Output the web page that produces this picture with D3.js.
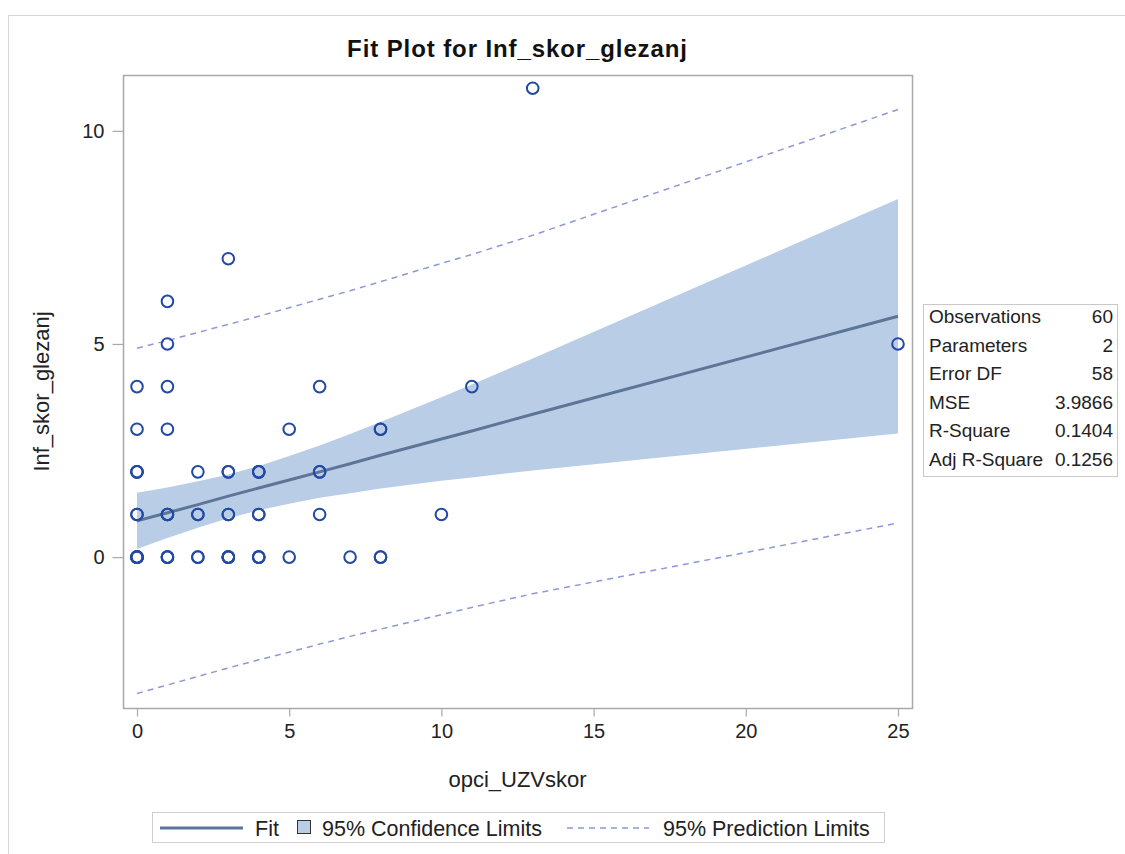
<!DOCTYPE html>
<html><head><meta charset="utf-8">
<script src="https://cdn.jsdelivr.net/npm/d3@7/dist/d3.min.js"></script>
<style>body{margin:0;background:#fff;} svg{display:block;font-family:"Liberation Sans",Arial,sans-serif;}</style>
</head><body>
<script>
// observations (x, y) incl. duplicates -> 60
const obsX = [0,0,0,0,0,0, 0,0, 0,0,0, 0, 0,
  1,1,1, 1,1,1, 1,1,1,1,
  2,2, 2,2, 2,
  3,3,3,3, 3,3, 3,3, 3,
  4,4,4, 4,4, 4,4,4,
  5,5, 6,6,6,6, 7, 8,8,8,8, 10, 11, 13, 25];
const obsY = [0,0,0,0,0,0, 1,1, 2,2,2, 3, 4,
  0,0,0, 1,1,1, 3,4,5,6,
  0,0, 1,1, 2,
  0,0,0,0, 1,1, 2,2, 7,
  0,0,0, 1,1, 2,2,2,
  0,3, 1,2,2,4, 0, 0,0,3,3, 1, 4, 11, 5];
// fit and limits read at observed x values
const fitX   = [0, 1, 2, 3, 4, 5, 6, 7, 8, 10, 11, 13, 25];
const fitY   = [0.85, 1.04, 1.23, 1.43, 1.62, 1.81, 2.00, 2.19, 2.39, 2.77, 2.96, 3.35, 5.65];
const clLow  = [0.19, 0.45, 0.69, 0.91, 1.10, 1.25, 1.39, 1.50, 1.61, 1.79, 1.87, 2.03, 2.90];
const clUp   = [1.51, 1.63, 1.78, 1.94, 2.14, 2.37, 2.62, 2.89, 3.17, 3.75, 4.05, 4.66, 8.40];
const plLow  = [-3.20, -3.00, -2.80, -2.60, -2.41, -2.23, -2.04, -1.86, -1.69, -1.35, -1.18, -0.86, 0.80];
const plUp   = [4.90, 5.08, 5.27, 5.46, 5.65, 5.85, 6.05, 6.25, 6.46, 6.89, 7.10, 7.55, 10.50];
const xTicks = [0, 5, 10, 15, 20, 25];
const yTicks = [0, 5, 10];
const statLabels = ["Observations","Parameters","Error DF","MSE","R-Square","Adj R-Square"];
const statValues = ["60","2","58","3.9866","0.1404","0.1256"];
const legendItems = ["Fit","95% Confidence Limits","95% Prediction Limits"];

const W=1125,H=854;
const svg=d3.select("body").append("svg").attr("width",W).attr("height",H);
// outer frame
svg.append("rect").attr("x",8.5).attr("y",15.5).attr("width",W+10).attr("height",H+10)
  .attr("fill","none").attr("stroke","#d6d6d6");

const L=123,R=912,T=75,B=708;
const x=d3.scaleLinear().domain([-0.46,25.46]).range([L,R]);
const y=d3.scaleLinear().domain([-3.54,11.31]).range([B,T]);

const idx=d3.range(fitX.length);
svg.append("path").datum(idx)
  .attr("d",d3.area().x(i=>x(fitX[i])).y0(i=>y(clLow[i])).y1(i=>y(clUp[i])))
  .attr("fill","#b9cee6");
svg.append("path").datum(idx)
  .attr("d",d3.line().x(i=>x(fitX[i])).y(i=>y(fitY[i])))
  .attr("fill","none").attr("stroke","#5f7597").attr("stroke-width",3);
[plLow,plUp].forEach(arr=>{
  svg.append("path").datum(idx)
    .attr("d",d3.line().x(i=>x(fitX[i])).y(i=>y(arr[i])))
    .attr("fill","none").attr("stroke","#8d98d8").attr("stroke-width",1.5)
    .attr("stroke-dasharray","6,5");
});
svg.append("g").selectAll("circle").data(obsX).join("circle")
  .attr("cx",(d)=>x(d)).attr("cy",(d,i)=>y(obsY[i])).attr("r",5.8)
  .attr("fill","none").attr("stroke","#2249a3").attr("stroke-width",2);

// frame
svg.append("rect").attr("x",L+0.5).attr("y",T+0.5).attr("width",R-L).attr("height",B-T)
  .attr("fill","none").attr("stroke","#a9a9a9").attr("stroke-width",1.5);

// axes
const ax=svg.append("g").attr("transform",`translate(0,${B+0.5})`)
  .call(d3.axisBottom(x).tickValues(xTicks).tickSize(8).tickPadding(7));
const ay=svg.append("g").attr("transform",`translate(${L+0.5},0)`)
  .call(d3.axisLeft(y).tickValues(yTicks).tickSize(11).tickPadding(8));
[ax,ay].forEach(g=>{
  g.select(".domain").remove();
  g.selectAll(".tick line").attr("stroke","#a9a9a9").attr("stroke-width",1.2);
  g.selectAll(".tick text").attr("fill","#222").attr("font-size",20)
    .attr("font-family","'Liberation Sans',Arial,sans-serif");
});

// title & labels
svg.append("text").attr("x",(L+R)/2).attr("y",57).attr("text-anchor","middle")
  .attr("font-size",24).attr("font-weight","bold").attr("letter-spacing",0.9).attr("fill","#111").text("Fit Plot for Inf_skor_glezanj");
svg.append("text").attr("x",(L+R)/2).attr("y",787).attr("text-anchor","middle")
  .attr("font-size",22).attr("fill","#222").text("opci_UZVskor");
svg.append("text").attr("transform",`translate(49,${(T+B)/2}) rotate(-90)`).attr("text-anchor","middle")
  .attr("font-size",22).attr("fill","#222").text("Inf_skor_glezanj");

// stats box
const sb=svg.append("g");
sb.append("rect").attr("x",923.5).attr("y",304.5).attr("width",194).attr("height",172)
  .attr("fill","#fff").attr("stroke","#c9c9c9");
statLabels.forEach((s,i)=>{
  sb.append("text").attr("x",929).attr("y",323+i*28.6).attr("font-size",19).attr("fill","#222").text(s);
  sb.append("text").attr("x",1113).attr("y",323+i*28.6).attr("text-anchor","end").attr("font-size",19).attr("fill","#222").text(statValues[i]);
});

// legend
const lg=svg.append("g");
lg.append("rect").attr("x",152.5).attr("y",812.5).attr("width",732).attr("height",30)
  .attr("fill","#fff").attr("stroke","#cfcfcf");
lg.append("line").attr("x1",160).attr("x2",243).attr("y1",828).attr("y2",828)
  .attr("stroke","#5f7597").attr("stroke-width",3);
lg.append("text").attr("x",255).attr("y",835.5).attr("font-size",21.5).attr("fill","#222").text(legendItems[0]);
lg.append("rect").attr("x",297.5).attr("y",820.5).attr("width",13).attr("height",13)
  .attr("fill","#b9cee6").attr("stroke","#333").attr("stroke-width",1);
lg.append("text").attr("x",322).attr("y",835.5).attr("font-size",21.5).attr("fill","#222").text(legendItems[1]);
lg.append("line").attr("x1",567).attr("x2",649).attr("y1",828).attr("y2",828)
  .attr("stroke","#8d98d8").attr("stroke-width",1.5).attr("stroke-dasharray","6,5");
lg.append("text").attr("x",663).attr("y",835.5).attr("font-size",21.5).attr("fill","#222").text(legendItems[2]);
</script>
</body></html>
